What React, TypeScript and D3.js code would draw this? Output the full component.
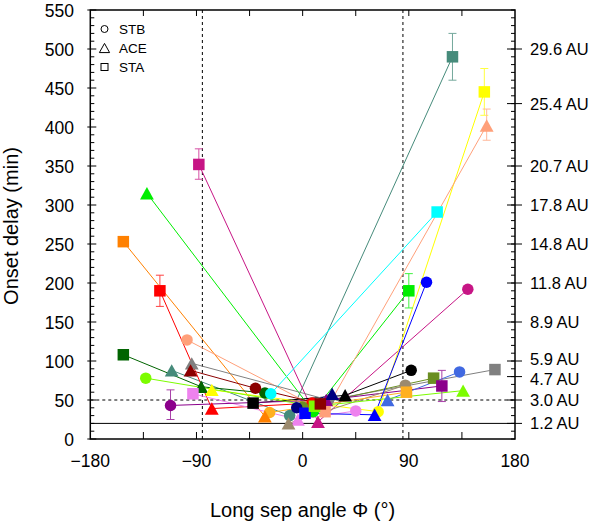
import React from "react";
import * as d3 from "d3";

// Event colours (one per event)
const eventColors = [
  "#468b7b", "#ff8000", "#ff0000", "#006400", "#c71585", "#ee82ee", "#000000",
  "#00ee00", "#ffff00", "#00ffff", "#ffa07a", "#808080", "#6b8e23", "#8b008b",
  "#9c8a6e", "#ffb020", "#0000ff", "#000080", "#4169e1", "#7cfc00", "#8b0000",
];

// [event, long sep angle (deg), onset delay (min)]
const stbPoints: [number, number, number][] = [
  [0, -11, 30], [2, 8, 46], [3, -32, 59], [4, 140, 192], [5, 45, 36], [6, 92, 88],
  [7, 9, 35], [8, 64, 35], [9, -27, 58], [10, -98, 127], [11, 22, 50], [12, 0, 41],
  [13, -112, 43], [14, 87, 69], [15, -28, 34], [16, 105, 201], [17, -5, 40],
  [18, 133, 86], [19, -133, 78], [20, -40, 65],
];
const acePoints: [number, number, number][] = [
  [0, -111, 88], [1, -32, 29], [2, -77, 39], [3, -86, 67], [4, 13, 22], [5, -4, 25],
  [6, 36, 56], [7, -132, 315], [8, -77, 63], [10, 156, 402], [11, -94, 97],
  [13, 20, 50], [14, -12, 20], [16, 61, 31], [17, 25, 58], [18, 72, 50],
  [19, 136, 62], [20, -95, 88],
];
const staPoints: [number, number, number][] = [
  [0, 127, 490], [1, -152, 253], [2, -121, 190], [3, -152, 108], [4, -88, 352],
  [5, -93, 58], [6, -42, 46], [7, 90, 190], [8, 154, 445], [9, 114, 291],
  [10, 19, 35], [11, 163, 89], [12, 111, 78], [13, 118, 68], [15, 88, 60],
  [16, 2, 33], [19, 10, 42], [20, 15, 45],
];
// [event, spacecraft, low, high]
const errorBars: [number, string, number, number][] = [
  [0, "STA", 460, 520], [2, "STA", 170, 210], [4, "STA", 333, 372],
  [7, "STA", 168, 212], [8, "STA", 415, 475], [10, "ACE", 383, 423],
  [13, "STB", 25, 63], [13, "STA", 48, 88],
];

const yTicks = [0, 50, 100, 150, 200, 250, 300, 350, 400, 450, 500, 550];
const xTicks = [-180, -90, 0, 90, 180];
const xMinorTicks = [-135, -90, -45, 0, 45, 90, 135];
const auTicks: [number, string][] = [
  [500, "29.6 AU"], [430, "25.4 AU"], [350, "20.7 AU"], [300, "17.8 AU"],
  [250, "14.8 AU"], [200, "11.8 AU"], [150, "8.9 AU"], [100, "5.9 AU"],
  [80, "4.7 AU"], [50, "3.0 AU"], [20, "1.2 AU"],
];
const legendItems = ["STB", "ACE", "STA"];

const W = 600, H = 525;
const L = 90.3, R = 515, T = 10, B = 439;
const FONT = "'Liberation Sans', Arial, Helvetica, sans-serif";

function Marker({ kind, cx, cy, fill, stroke, size }: any) {
  if (kind === "STB")
    return <circle cx={cx} cy={cy} r={size / 2} fill={fill} stroke={stroke} strokeWidth={1} />;
  if (kind === "STA")
    return <rect x={cx - size / 2} y={cy - size / 2} width={size} height={size} fill={fill} stroke={stroke} strokeWidth={1} />;
  const s = size * 1.2;
  const h = s * 0.9;
  const pts = `${cx - s / 2},${cy + h / 2} ${cx + s / 2},${cy + h / 2} ${cx},${cy - h / 2}`;
  return <polygon points={pts} fill={fill} stroke={stroke} strokeWidth={1} />;
}

export default function App() {
  const x = d3.scaleLinear().domain([-180, 180]).range([L, R]);
  const y = d3.scaleLinear().domain([0, 550]).range([B, T]);

  const all = [
    ...stbPoints.map((p) => ({ e: p[0], kind: "STB", x: p[1], y: p[2] })),
    ...acePoints.map((p) => ({ e: p[0], kind: "ACE", x: p[1], y: p[2] })),
    ...staPoints.map((p) => ({ e: p[0], kind: "STA", x: p[1], y: p[2] })),
  ];
  const line = d3.line<any>().x((d) => x(d.x)).y((d) => y(d.y));
  const groups = eventColors.map((c, i) =>
    all.filter((p) => p.e === i).sort((a, b) => a.x - b.x)
  );

  const minorY = d3.range(0, 551, 10);
  const labelNudge = (v: number) => (v === 100 ? -2.5 : v === 80 ? 2 : 0);

  return (
    <svg width={W} height={H} style={{ position: "absolute", left: 0, top: 0, background: "#fff" }} fontFamily={FONT}>
      <rect width={W} height={H} fill="#fff" />
      {/* reference lines */}
      <line x1={L} x2={R} y1={y(20)} y2={y(20)} stroke="#000" strokeWidth={1} />
      <line x1={L} x2={R} y1={y(50)} y2={y(50)} stroke="#000" strokeWidth={1} strokeDasharray="3,3" />
      <line x1={x(-85)} x2={x(-85)} y1={T} y2={B} stroke="#000" strokeWidth={1} strokeDasharray="3,3" />
      <line x1={x(85)} x2={x(85)} y1={T} y2={B} stroke="#000" strokeWidth={1} strokeDasharray="3,3" />

      {/* connecting lines */}
      {groups.map((g, i) => (
        <path key={"l" + i} d={line(g) || ""} fill="none" stroke={eventColors[i]} strokeWidth={1} />
      ))}

      {/* error bars */}
      {errorBars.map(([e, sc, lo, hi], i) => {
        const p = all.find((q) => q.e === e && q.kind === sc)!;
        const c = d3.interpolateRgb(eventColors[e], "#ffffff")(0.25);
        const cx = x(p.x);
        return (
          <g key={"e" + i} stroke={c} strokeWidth={1}>
            <line x1={cx} x2={cx} y1={y(lo)} y2={y(hi)} />
            <line x1={cx - 4} x2={cx + 4} y1={y(lo)} y2={y(lo)} />
            <line x1={cx - 4} x2={cx + 4} y1={y(hi)} y2={y(hi)} />
          </g>
        );
      })}

      {/* markers */}
      {all.map((p, i) => (
        <Marker key={"m" + i} kind={p.kind} cx={x(p.x)} cy={y(p.y)} fill={eventColors[p.e]} stroke="none" size={11.5} />
      ))}

      {/* frame */}
      <rect x={L} y={T} width={R - L} height={B - T} fill="none" stroke="#000" strokeWidth={1.5} />

      {/* left ticks */}
      {minorY.map((v) => (
        <line key={"ly" + v} x1={v % 50 === 0 ? L - 3 : L} x2={v % 50 === 0 ? L + 6 : L + 4} y1={y(v)} y2={y(v)} stroke="#000" strokeWidth={1} />
      ))}
      {yTicks.map((v) => (
        <text key={"yt" + v} x={74} y={y(v) + 6.5} textAnchor="end" fontSize={17.5} fill="#000">{v}</text>
      ))}

      {/* right ticks */}
      {minorY.map((v) => (
        <line key={"ry" + v} x1={R - 4} x2={R} y1={y(v)} y2={y(v)} stroke="#000" strokeWidth={1} />
      ))}
      {auTicks.map(([v, lab]) => (
        <g key={"au" + v}>
          <line x1={R - 8} x2={R + 7} y1={y(v)} y2={y(v)} stroke="#000" strokeWidth={1} />
          <text x={530} y={y(v) + 6 + labelNudge(v)} fontSize={16.5} fill="#000">{lab}</text>
        </g>
      ))}

      {/* top / bottom ticks */}
      {xMinorTicks.map((v) => (
        <g key={"xt" + v} stroke="#000" strokeWidth={1}>
          <line x1={x(v)} x2={x(v)} y1={T} y2={T + 6} />
          <line x1={x(v)} x2={x(v)} y1={B} y2={B - 7} />
        </g>
      ))}
      {xTicks.map((v) => (
        <text key={"xl" + v} x={x(v)} y={467} textAnchor="middle" fontSize={17.5} fill="#000">
          {v < 0 ? "\u2212" + Math.abs(v) : String(v)}
        </text>
      ))}

      {/* axis titles */}
      <text x={302.5} y={517} textAnchor="middle" fontSize={20} fill="#000">Long sep angle Φ (°)</text>
      <text transform="translate(18,226) rotate(-90)" textAnchor="middle" fontSize={20} fill="#000">Onset delay (min)</text>

      {/* legend */}
      {legendItems.map((k, i) => (
        <g key={"lg" + k}>
          <Marker kind={k} cx={104.5} cy={29 + i * 19} fill="none" stroke="#000" size={k === "ACE" ? 8.5 : 7} />
          <text x={119} y={33.5 + i * 19} fontSize={13.5} fill="#000">{k}</text>
        </g>
      ))}
    </svg>
  );
}
